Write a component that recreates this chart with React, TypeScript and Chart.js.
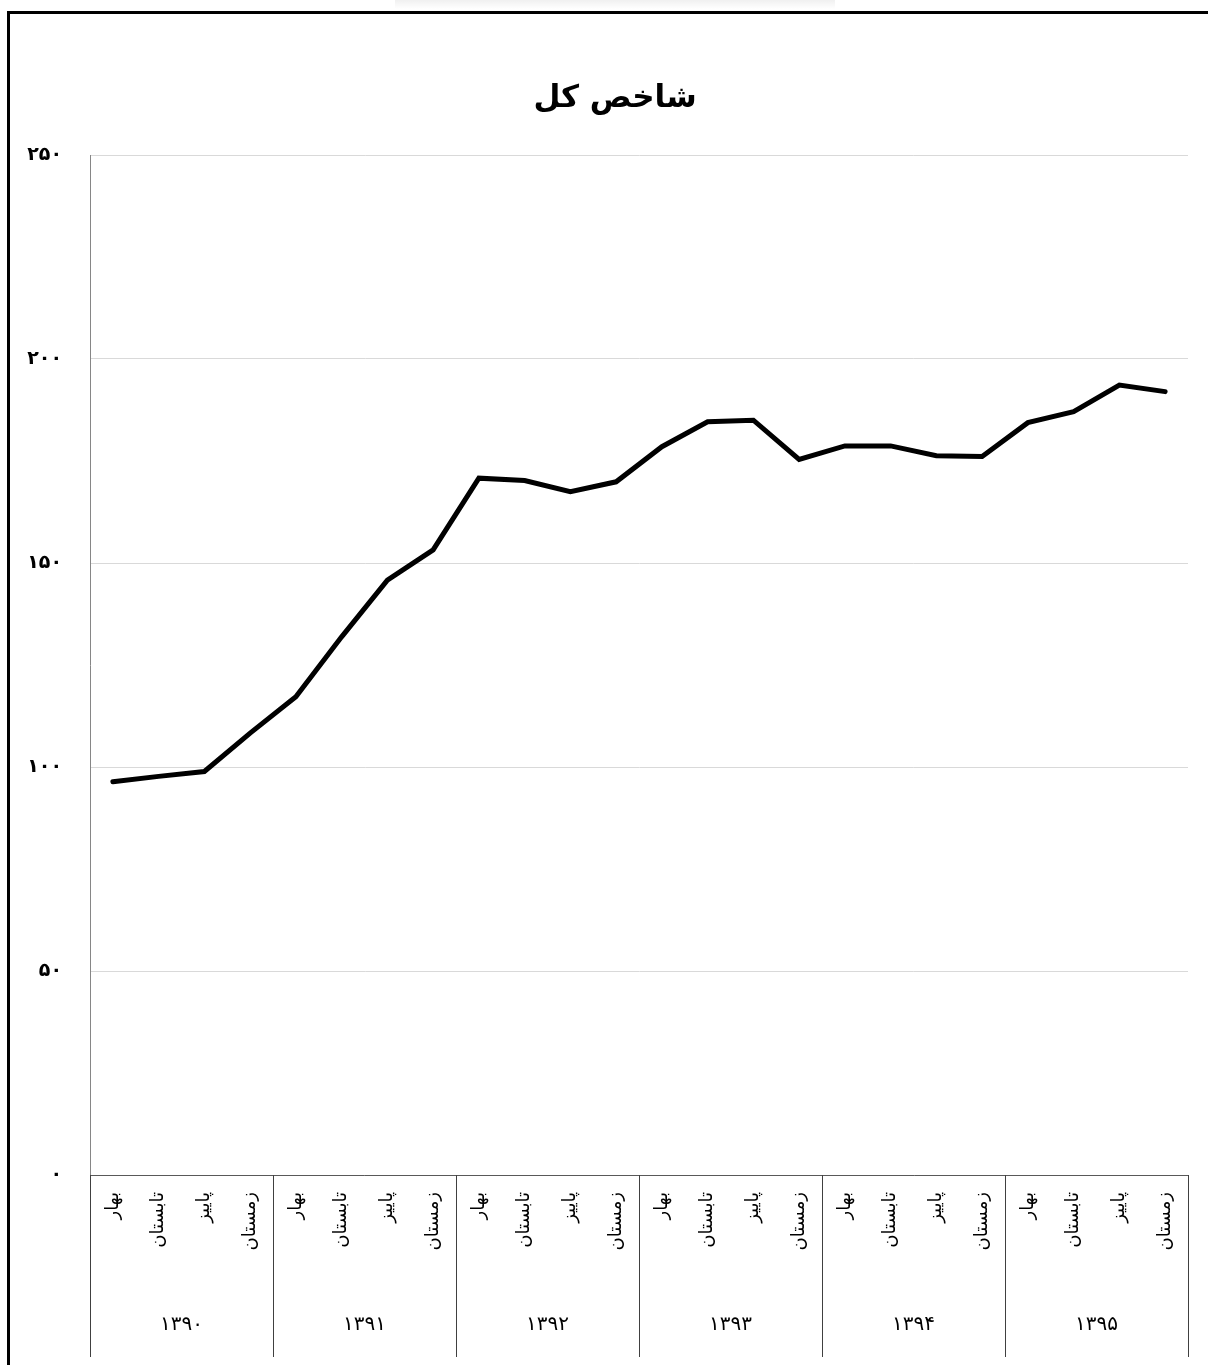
import React, { useEffect, useRef } from "react";
import { Chart, registerables } from "chart.js";

Chart.register(...registerables);

const chartTitle = "شاخص کل";
const seasons = ["بهار", "تابستان", "پاییز", "زمستان"];
const years = ["۱۳۹۰", "۱۳۹۱", "۱۳۹۲", "۱۳۹۳", "۱۳۹۴", "۱۳۹۵"];
const indexValues = [
  96.4, 97.7, 98.9, 108.3,
  117.2, 131.9, 145.8, 153.2,
  170.8, 170.2, 167.5, 169.9,
  178.5, 184.6, 185.0, 175.4,
  178.7, 178.7, 176.3, 176.1,
  184.4, 187.1, 193.6, 192.0,
];
const yTickValues = [0, 50, 100, 150, 200, 250];
const yTickLabels = ["۰", "۵۰", "۱۰۰", "۱۵۰", "۲۰۰", "۲۵۰"];

const FONT = '"DejaVu Sans", "Noto Sans", sans-serif';
const W = 1208;
const H = 1365;

const decorPlugin = {
  id: "decor",
  beforeDraw(chart: any) {
    const ctx = chart.ctx;
    ctx.save();
    ctx.fillStyle = "#ffffff";
    ctx.fillRect(0, 0, chart.width, chart.height);
    const g = ctx.createLinearGradient(0, 0, 0, 9);
    g.addColorStop(0, "rgba(0,0,0,0.06)");
    g.addColorStop(1, "rgba(0,0,0,0.0)");
    ctx.fillStyle = g;
    ctx.fillRect(395, 0, 440, 9);
    ctx.restore();
  },
  afterDraw(chart: any) {
    const ctx = chart.ctx;
    const xs = chart.scales.x;
    const x2 = chart.scales.x2;
    ctx.save();
    // title
    ctx.fillStyle = "#000000";
    ctx.font = `bold 31px ${FONT}`;
    ctx.textAlign = "center";
    ctx.textBaseline = "middle";
    ctx.fillText(chartTitle, 615, 99);
    // year separators
    ctx.strokeStyle = "#404040";
    ctx.lineWidth = 1;
    const per = seasons.length;
    for (let k = 0; k <= years.length; k++) {
      const px = Math.round(xs.getPixelForValue(k * per - 0.5)) + 0.5;
      ctx.beginPath();
      ctx.moveTo(px, chart.chartArea.bottom);
      ctx.lineTo(px, x2.bottom - 8);
      ctx.stroke();
    }
    // outer frame
    ctx.strokeStyle = "#000000";
    ctx.lineWidth = 3;
    ctx.beginPath();
    ctx.moveTo(8.5, chart.height + 5);
    ctx.lineTo(8.5, 12.5);
    ctx.lineTo(chart.width + 5, 12.5);
    ctx.stroke();
    ctx.restore();
  },
};

export default function App() {
  const canvasRef = useRef<HTMLCanvasElement | null>(null);

  useEffect(() => {
    document.body.style.margin = "0";
    const canvas = canvasRef.current;
    if (!canvas) return;
    const labels = years.flatMap(() => seasons);
    const chart = new Chart(canvas, {
      type: "line",
      data: {
        labels,
        datasets: [
          {
            data: indexValues,
            borderColor: "#000000",
            backgroundColor: "#000000",
            borderWidth: 5,
            pointRadius: 0,
            pointHoverRadius: 0,
            tension: 0,
            borderCapStyle: "round",
            borderJoinStyle: "miter",
            fill: false,
          },
        ],
      },
      options: {
        responsive: false,
        animation: false,
        events: [],
        layout: { padding: { left: 0, right: 20, top: 155, bottom: 0 } },
        plugins: {
          legend: { display: false },
          tooltip: { enabled: false },
          title: { display: false },
        },
        scales: {
          x: {
            type: "category",
            offset: true,
            position: "bottom",
            weight: 0,
            grid: { display: false, drawTicks: false },
            border: { display: true, color: "#595959", width: 1 },
            ticks: {
              autoSkip: false,
              minRotation: 90,
              maxRotation: 90,
              padding: 17,
              color: "#000000",
              font: { family: FONT, size: 18 },
            },
            afterFit: (scale: any) => {
              scale.height = 110;
            },
          },
          x2: {
            type: "category",
            labels: years,
            offset: true,
            position: "bottom",
            weight: 1,
            grid: { display: false, drawTicks: false },
            border: { display: false },
            ticks: {
              autoSkip: false,
              maxRotation: 0,
              minRotation: 0,
              padding: 28,
              color: "#000000",
              font: { family: FONT, size: 20 },
            },
            afterFit: (scale: any) => {
              scale.height = 80;
            },
          },
          y: {
            type: "linear",
            min: yTickValues[0],
            max: yTickValues[yTickValues.length - 1],
            afterBuildTicks: (scale: any) => {
              scale.ticks = yTickValues.map((v) => ({ value: v }));
            },
            grid: { color: "#d9d9d9", lineWidth: 1, drawTicks: false },
            border: { display: true, color: "#868686", width: 1 },
            ticks: {
              padding: 28,
              color: "#000000",
              font: { family: FONT, size: 19, weight: "bold" },
              callback: (value: any) => {
                const i = yTickValues.indexOf(Number(value));
                return i >= 0 ? yTickLabels[i] : "";
              },
            },
            afterFit: (scale: any) => {
              scale.width = 90;
            },
          },
        },
      },
      plugins: [decorPlugin],
    });
    return () => chart.destroy();
  }, []);

  return (
    <div style={{ position: "absolute", left: 0, top: 0, width: W, height: H }}>
      <canvas ref={canvasRef} width={W} height={H} style={{ display: "block", width: W, height: H }} />
    </div>
  );
}
